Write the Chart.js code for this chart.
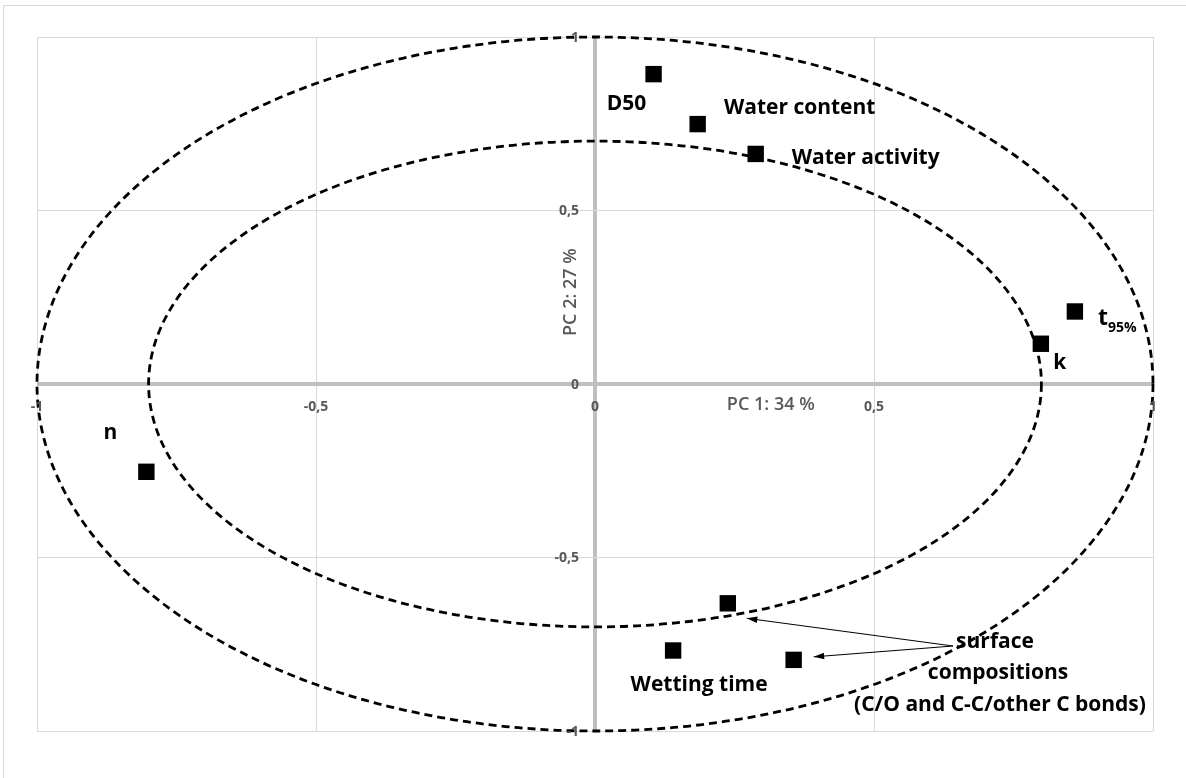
<!DOCTYPE html>
<html>
<head>
<meta charset="utf-8">
<script src="https://cdn.jsdelivr.net/npm/chart.js@4.4.1/dist/chart.umd.min.js"></script>
<style>
    html, body { margin: 0; padding: 0; background: #fff; }
    .wrap { position: relative; width: 1186px; height: 778px; overflow: hidden; }
    .frame { position: absolute; left: 3px; top: 5px; width: 1200px; height: 800px; border: 1px solid #d9d9d9; box-sizing: border-box; }
    canvas { position: absolute; left: 0; top: 0; }
</style>
</head>
<body>
<div class="wrap">
    <div class="frame"></div>
    <canvas id="chart" width="1186" height="778"></canvas>
</div>
<script>
// PCA loadings
const variables = ['D50', 'Water content', 'Water activity', 't95%', 'k', 'n', 'surface C/O', 'Wetting time', 'surface C-C/other C'];
const pc1 = [0.105, 0.184, 0.288, 0.860, 0.799, -0.804, 0.238, 0.140, 0.356];
const pc2 = [0.893, 0.749, 0.663, 0.209, 0.116, -0.253, -0.632, -0.768, -0.795];

const tickValues = [-1, -0.5, 0, 0.5, 1];
const tickLabels = ['-1', '-0,5', '0', '0,5', '1'];

const xTitle = 'PC 1: 34 %';
const yTitle = 'PC 2: 27 %';

// correlation circles (radii in axis units)
const circles = [
    { rx: 1, ry: 1 },
    { rx: 0.8, ry: 0.7 }
];

const LABEL_FONT = 'bold 21px "Open Sans", sans-serif';
const TICK_FONT = 'bold 14px "Open Sans", sans-serif';
const TITLE_FONT = '600 18px "Open Sans", sans-serif';

// label offsets in pixels from each point
const pointLabels = [
    { i: 0, text: 'D50', dx: -27, dy: 30 },
    { i: 1, text: 'Water content', dx: 102, dy: -16 },
    { i: 2, text: 'Water activity', dx: 110, dy: 4 },
    { i: 4, text: 'k', dx: 19, dy: 19 },
    { i: 5, text: 'n', dx: -36, dy: -39 },
    { i: 7, text: 'Wetting time', dx: 26, dy: 35 }
];

const ellipsePlugin = {
    id: 'ellipses',
    beforeDatasetsDraw(chart) {
        const { ctx, scales: { x, y } } = chart;
        const cx = x.getPixelForValue(0);
        const cy = y.getPixelForValue(0);
        ctx.save();
        ctx.strokeStyle = '#000';
        ctx.lineWidth = 2.8;
        ctx.setLineDash([8, 5]);
        circles.forEach(c => {
            const rx = x.getPixelForValue(c.rx) - cx;
            const ry = cy - y.getPixelForValue(c.ry);
            ctx.beginPath();
            ctx.ellipse(cx, cy, rx, ry, 0, 0, Math.PI * 2);
            ctx.stroke();
        });
        ctx.restore();
    }
};

const textPlugin = {
    id: 'texts',
    beforeDatasetsDraw(chart) {
        const { ctx, scales: { x, y } } = chart;
        const x0 = x.getPixelForValue(0);
        const y0 = y.getPixelForValue(0);
        ctx.save();
        ctx.fillStyle = '#595959';
        ctx.font = TICK_FONT;
        // y tick labels, left of the vertical axis
        ctx.textAlign = 'right';
        ctx.textBaseline = 'middle';
        tickValues.forEach((v, k) => {
            ctx.fillText(tickLabels[k], x0 - 16, y.getPixelForValue(v) + 1);
        });
        // x tick labels, below the horizontal axis
        ctx.textAlign = 'center';
        tickValues.forEach((v, k) => {
            ctx.fillText(tickLabels[k], x.getPixelForValue(v), y0 + 23);
        });
        // axis titles
        ctx.font = TITLE_FONT;
        ctx.fillText(xTitle, x.getPixelForValue(0.315), y0 + 21);
        ctx.translate(x0 - 24, y.getPixelForValue(0.265));
        ctx.rotate(-Math.PI / 2);
        ctx.fillText(yTitle, 0, 0);
        ctx.restore();
    },
    afterDatasetsDraw(chart) {
        const { ctx } = chart;
        const pts = chart.getDatasetMeta(0).data;
        ctx.save();
        ctx.fillStyle = '#000';
        ctx.font = LABEL_FONT;
        ctx.textAlign = 'center';
        ctx.textBaseline = 'middle';
        pointLabels.forEach(l => {
            const p = pts[l.i];
            ctx.fillText(l.text, p.x + l.dx, p.y + l.dy);
        });

        // t95% with subscript
        const t = pts[3];
        ctx.textAlign = 'left';
        ctx.font = 'bold 23px "Open Sans", sans-serif';
        ctx.fillText('t', t.x + 23, t.y + 7);
        ctx.font = 'bold 14px "Open Sans", sans-serif';
        ctx.fillText('95%', t.x + 33, t.y + 17);

        // surface compositions note with arrows
        const sx = 953, sy = 646;
        ctx.textAlign = 'center';
        ctx.font = LABEL_FONT;
        ctx.fillText('surface', 995, 642);
        ctx.fillText('compositions', 998, 673);
        ctx.fillText('(C/O and C-C/other C bonds)', 1000, 705);

        [pts[6], pts[8]].forEach((p, k) => {
            const tx = p.x + (k === 0 ? 19 : 20);
            const ty = p.y + (k === 0 ? 15 : -3);
            const ang = Math.atan2(ty - sy, tx - sx);
            ctx.strokeStyle = '#000';
            ctx.lineWidth = 1;
            ctx.beginPath();
            ctx.moveTo(sx, sy);
            ctx.lineTo(tx, ty);
            ctx.stroke();
            ctx.beginPath();
            ctx.moveTo(tx, ty);
            ctx.lineTo(tx - 11 * Math.cos(ang - 0.3), ty - 11 * Math.sin(ang - 0.3));
            ctx.lineTo(tx - 11 * Math.cos(ang + 0.3), ty - 11 * Math.sin(ang + 0.3));
            ctx.closePath();
            ctx.fill();
        });
        ctx.restore();
    }
};

function gridColor(c) {
    return c.tick && c.tick.value === 0 ? '#bfbfbf' : '#d9d9d9';
}
function gridWidth(c) {
    return c.tick && c.tick.value === 0 ? 4 : 1;
}

new Chart(document.getElementById('chart'), {
    type: 'scatter',
    data: {
        labels: variables,
        datasets: [{
            data: pc1.map((v, i) => ({ x: v, y: pc2[i] })),
            backgroundColor: '#000',
            borderWidth: 0,
            pointStyle: 'rect',
            pointRadius: 11.6,
            pointHoverRadius: 11.6
        }]
    },
    options: {
        responsive: false,
        animation: false,
        devicePixelRatio: 1,
        layout: { padding: { left: 37, top: 37, right: 33, bottom: 47 } },
        scales: {
            x: {
                min: -1,
                max: 1,
                ticks: { stepSize: 0.5, display: false },
                grid: { color: gridColor, lineWidth: gridWidth, drawTicks: false },
                border: { display: false }
            },
            y: {
                min: -1,
                max: 1,
                ticks: { stepSize: 0.5, display: false },
                grid: { color: gridColor, lineWidth: gridWidth, drawTicks: false },
                border: { display: false }
            }
        },
        plugins: {
            legend: { display: false },
            tooltip: { enabled: false }
        }
    },
    plugins: [ellipsePlugin, textPlugin]
});
</script>
</body>
</html>
